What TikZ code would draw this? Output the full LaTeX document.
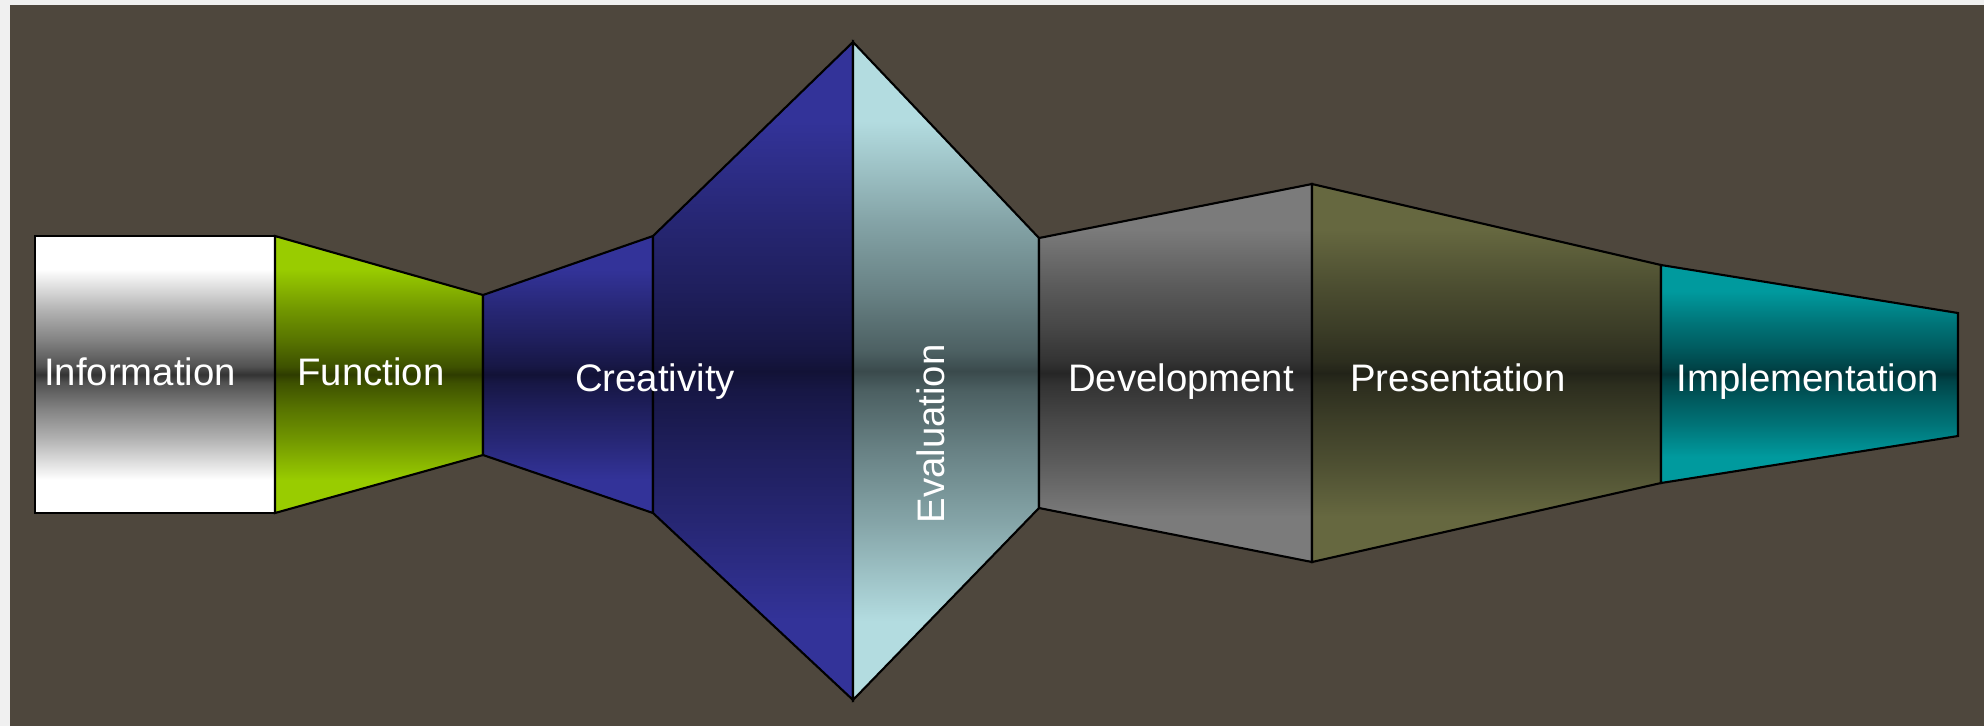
\documentclass[tikz,border=0pt]{standalone}
\usepackage{fontspec}
\usepackage{tikz}

\newfontfamily\stagesans{Liberation Sans}

\definecolor{StageBG}{HTML}{4E473D}
\definecolor{StageFrame}{HTML}{F0F0F0}
\definecolor{InfoEdge}{HTML}{FFFFFF}
\definecolor{InfoMid}{HTML}{333333}
\definecolor{FunEdge}{HTML}{99CC00}
\definecolor{FunMid}{HTML}{2E3C00}
\definecolor{CreEdge}{HTML}{333399}
\definecolor{CreMid}{HTML}{121236}
\definecolor{EvaEdge}{HTML}{B3DCE0}
\definecolor{EvaMid}{HTML}{3A4A4C}
\definecolor{DevEdge}{HTML}{7B7B7B}
\definecolor{DevMid}{HTML}{262626}
\definecolor{PreEdge}{HTML}{666840}
\definecolor{PreMid}{HTML}{222318}
\definecolor{ImpEdge}{HTML}{009A9E}
\definecolor{ImpMid}{HTML}{003438}

% edge colour at top and bottom, dark band through the middle
\colorlet{glassedge}{white}
\colorlet{glassmid}{black}
\pgfdeclareverticalshading[glassedge,glassmid]{glass}{100bp}{
  color(0bp)=(glassedge); color(31bp)=(glassedge);
  color(38.5bp)=(glassedge!62!glassmid); color(44bp)=(glassedge!38!glassmid);
  color(48.5bp)=(glassedge!15!glassmid); color(50bp)=(glassmid);
  color(51.5bp)=(glassedge!15!glassmid); color(56bp)=(glassedge!38!glassmid);
  color(61.5bp)=(glassedge!62!glassmid); color(69bp)=(glassedge);
  color(100bp)=(glassedge)}

\tikzset{
stageglass/.style 2 args={/utils/exec={\colorlet{glassedge}{#1}\colorlet{glassmid}{#2}},
  shade, shading=glass, draw=black, line width=0.6pt, line join=miter},
stagelabel/.style={text=white, font=\fontsize{10.9}{13}\selectfont\stagesans,
  anchor=base, inner sep=0pt}
}

\begin{document}
\begin{tikzpicture}[x=0.01cm, y=-0.01cm]
\useasboundingbox[fill=StageFrame] (0,0) rectangle (1984,726);
\fill[StageBG] (10,5) rectangle (1984,726);

% funnel stages, left to right
\draw[stageglass={InfoEdge}{InfoMid}] (35,236) rectangle (275,513);
\draw[stageglass={FunEdge}{FunMid}] (275,236) -- (483,295) -- (483,455) -- (275,513) -- cycle;
\draw[stageglass={CreEdge}{CreMid}] (483,295) -- (653,236) -- (653,513) -- (483,455) -- cycle;
\draw[stageglass={CreEdge}{CreMid}] (653,236) -- (853,42) -- (853,700) -- (653,513) -- cycle;
\draw[stageglass={EvaEdge}{EvaMid}] (853,42) -- (1039,238) -- (1039,508) -- (853,700) -- cycle;
\draw[stageglass={DevEdge}{DevMid}] (1039,238) -- (1312,184) -- (1312,562) -- (1039,508) -- cycle;
\draw[stageglass={PreEdge}{PreMid}] (1312,184) -- (1661,265) -- (1661,483) -- (1312,562) -- cycle;
\draw[stageglass={ImpEdge}{ImpMid}] (1661,265) -- (1958,313) -- (1958,436) -- (1661,483) -- cycle;

% labels
\node[stagelabel] (info) at (140,385) {Information};
\node[stagelabel] (func) at (371,385) {Function};
\node[stagelabel] (crea) at (655,391) {Creativity};
\node[stagelabel, anchor=center, rotate=90] (eval) at (931,434) {Evaluation};
\node[stagelabel] (devel) at (1181,391) {Development};
\node[stagelabel] (pres) at (1458,391) {Presentation};
\node[stagelabel] (impl) at (1808,391) {Implementation};
\end{tikzpicture}
\end{document}
